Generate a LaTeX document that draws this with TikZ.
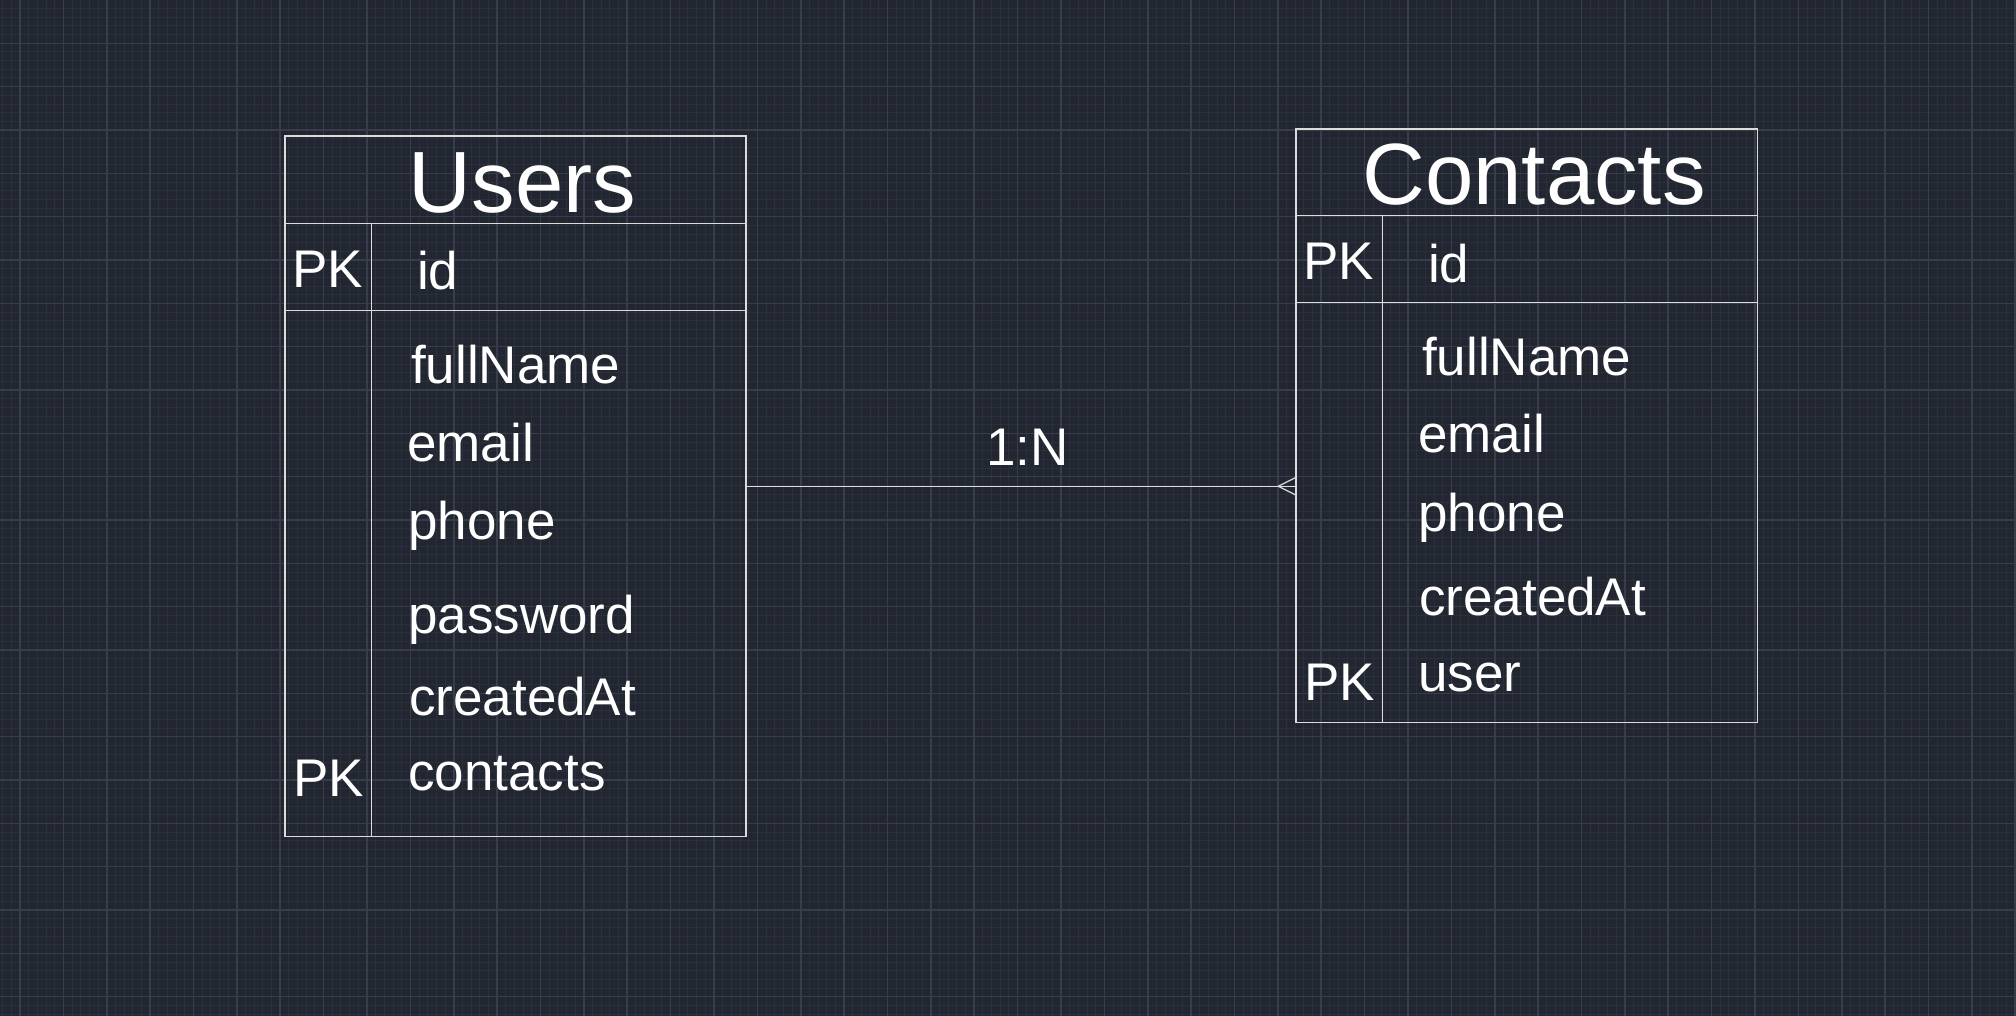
\documentclass[tikz,border=0pt]{standalone}
\usepackage{fontspec}
\setmainfont{Liberation Sans}
\usetikzlibrary{calc}
\definecolor{bgc}{HTML}{212630}
\definecolor{minorc}{HTML}{2A303B}
\definecolor{majorc}{HTML}{373D4B}
\definecolor{linec}{HTML}{DCDCDC}
\tikzset{
  tablebox/.style={draw=linec, line width=1.5pt, inner sep=0pt},
  sepline/.style={draw=linec, line width=1.5pt},
  conn/.style={draw=linec, line width=1.2pt},
  field/.style={anchor=base west, inner sep=0pt, text=white, font=\fontsize{53}{60}\selectfont},
  title/.style={anchor=base, inner sep=0pt, text=white, font=\fontsize{87}{96}\selectfont},
}
\begin{document}
\begin{tikzpicture}[x=1pt,y=-1pt]
\useasboundingbox (0,0) rectangle (2016,1016);
\fill[bgc] (0,0) rectangle (2016,1016);
% minor grid
\foreach \i in {-3,...,230} { \draw[minorc, line width=1pt] ({20+8.675*\i},0) -- ({20+8.675*\i},1016); }
\foreach \j in {0,...,118} { \draw[minorc, line width=1pt] (0,{8.667*\j}) -- (2016,{8.667*\j}); }
% major grid
\foreach \i in {0,...,46} { \draw[majorc, line width=1.6pt] ({20+43.375*\i},0) -- ({20+43.375*\i},1016); }
\foreach \j in {1,...,23} { \draw[majorc, line width=1.6pt] (0,{43.333*\j}) -- (2016,{43.333*\j}); }

% Users table
\node[tablebox, minimum width=461pt, minimum height=700.5pt] (users) at (515.5,486.25) {};
\draw[sepline] (users.north west |- 0,223.3) -- (users.north east |- 0,223.3);
\draw[sepline] (users.north west |- 0,310.3) -- (users.north east |- 0,310.3);
\draw[sepline] (371.3,223.3) -- (371.3,836.5);
\node[title] (usersT) at (522.5,213) {Users};
\node[field] (uPK1) at (292,288) {PK};
\node[field] (uid) at (417,290) {id};
\node[field] (ufull) at (411,383) {fullName};
\node[field] (uemail) at (407,461) {email};
\node[field] (uphone) at (408,539) {phone};
\node[field] (upass) at (408,633) {password};
\node[field] (ucreated) at (409,715) {createdAt};
\node[field] (ucontacts) at (408,790) {contacts};
\node[field] (uPK2) at (293,796.5) {PK};

% Contacts table
\node[tablebox, minimum width=461.7pt, minimum height=593.7pt] (contacts) at (1526.85,425.85) {};
\draw[sepline] (contacts.north west |- 0,215.7) -- (contacts.north east |- 0,215.7);
\draw[sepline] (contacts.north west |- 0,302.7) -- (contacts.north east |- 0,302.7);
\draw[sepline] (1382.3,215.7) -- (1382.3,722.7);
\node[title] (contactsT) at (1534,205) {Contacts};
\node[field] (cPK1) at (1303,280) {PK};
\node[field] (cid) at (1428,282.5) {id};
\node[field] (cfull) at (1422,375) {fullName};
\node[field] (cemail) at (1418,452.5) {email};
\node[field] (cphone) at (1418,531.5) {phone};
\node[field] (ccreated) at (1419,615) {createdAt};
\node[field] (cuser) at (1418,691.5) {user};
\node[field] (cPK2) at (1304,700) {PK};

% Relationship
\coordinate (cfend) at (users.east -| contacts.west);
\draw[conn] (users.east) -- (cfend);
\draw[conn] ($(cfend)+(0,-8.5)$) -- ($(cfend)+(-17,0)$) -- ($(cfend)+(0,8.5)$);
\node[field] (rel) at (986,465) {1:N};
\end{tikzpicture}
\end{document}
